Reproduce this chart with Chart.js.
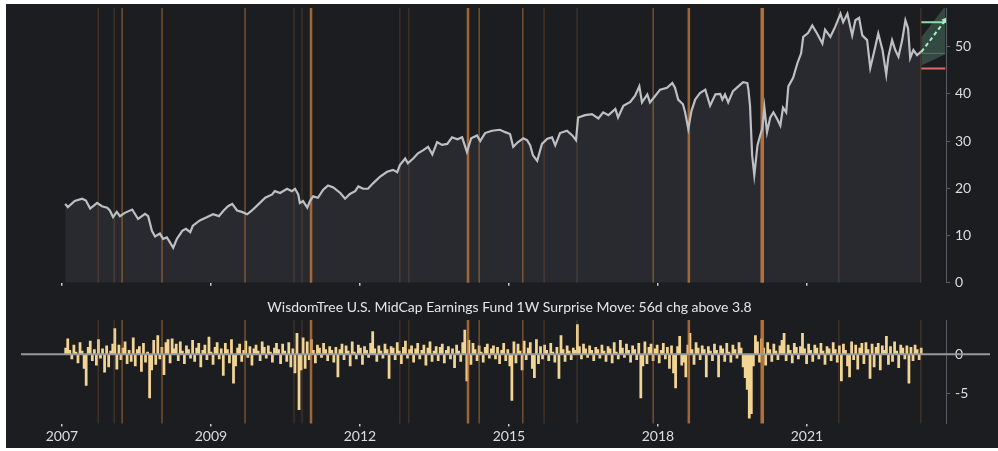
<!DOCTYPE html>
<html>
<head>
<meta charset="utf-8">
<script src="https://cdn.jsdelivr.net/npm/chart.js@4.4.0/dist/chart.umd.min.js"></script>
<style>
  body { margin: 0; background: #ffffff; }
  #wrap { position: absolute; left: 6px; top: 4px; width: 992px; height: 444px; background: #1b1d21; }
  #topBox { position: absolute; left: 0; top: 0; width: 992px; height: 288px; }
  #botBox { position: absolute; left: 0; top: 288px; width: 992px; height: 156px; }
</style>
</head>
<body>
<div id="wrap">
  <div id="topBox"><canvas id="priceChart"></canvas></div>
  <div id="botBox"><canvas id="moveChart"></canvas></div>
</div>
<script>
// x axis (decimal years)
const xMin = 2006.38, xMax = 2023.763;
const xTickYears = [2007.15, 2009.95, 2012.75, 2015.55, 2018.35, 2021.15];
const xTickLabels = ['2007', '2009', '2012', '2015', '2018', '2021'];

// fund price
const priceDates = [
  2007.21, 2007.26, 2007.39, 2007.53, 2007.60, 2007.68, 2007.81, 2007.90, 2008.00, 2008.05,
  2008.11, 2008.18, 2008.24, 2008.33, 2008.47, 2008.58, 2008.71, 2008.77, 2008.84, 2008.90,
  2008.99, 2009.05, 2009.12, 2009.16, 2009.24, 2009.31, 2009.41, 2009.48, 2009.56, 2009.61,
  2009.74, 2009.88, 2009.99, 2010.10, 2010.18, 2010.27, 2010.35, 2010.44, 2010.53, 2010.63,
  2010.72, 2010.84, 2010.97, 2011.10, 2011.15, 2011.25, 2011.38, 2011.47, 2011.53, 2011.59,
  2011.62, 2011.68, 2011.76, 2011.81, 2011.87, 2011.96, 2012.06, 2012.15, 2012.25, 2012.38,
  2012.47, 2012.56, 2012.66, 2012.72, 2012.81, 2012.90, 2013.00, 2013.13, 2013.26, 2013.37,
  2013.45, 2013.50, 2013.60, 2013.65, 2013.75, 2013.84, 2013.94, 2014.03, 2014.11, 2014.20,
  2014.29, 2014.39, 2014.48, 2014.58, 2014.67, 2014.76, 2014.84, 2014.95, 2015.01, 2015.10,
  2015.23, 2015.38, 2015.48, 2015.57, 2015.63, 2015.72, 2015.82, 2015.89, 2015.95, 2016.00,
  2016.08, 2016.17, 2016.27, 2016.36, 2016.42, 2016.51, 2016.64, 2016.74, 2016.81, 2016.85,
  2016.98, 2017.11, 2017.23, 2017.32, 2017.42, 2017.55, 2017.60, 2017.70, 2017.83, 2017.92,
  2018.00, 2018.05, 2018.15, 2018.20, 2018.30, 2018.39, 2018.52, 2018.62, 2018.67, 2018.73,
  2018.82, 2018.86, 2018.92, 2018.98, 2019.05, 2019.14, 2019.24, 2019.33, 2019.43, 2019.52,
  2019.56, 2019.61, 2019.67, 2019.76, 2019.86, 2019.95, 2020.03, 2020.05, 2020.08, 2020.12,
  2020.16, 2020.22, 2020.27, 2020.31, 2020.35, 2020.40, 2020.46, 2020.52, 2020.59, 2020.65,
  2020.70, 2020.76, 2020.80, 2020.89, 2020.97, 2021.04, 2021.08, 2021.17, 2021.25, 2021.34,
  2021.44, 2021.49, 2021.59, 2021.68, 2021.78, 2021.83, 2021.91, 2022.00, 2022.06, 2022.13,
  2022.19, 2022.28, 2022.34, 2022.42, 2022.49, 2022.57, 2022.64, 2022.68, 2022.75, 2022.81,
  2022.87, 2022.94, 2023.00, 2023.05, 2023.09, 2023.15, 2023.22, 2023.30
];
const priceValues = [
  16.7, 16.0, 17.3, 17.8, 17.4, 15.7, 16.9, 16.2, 15.9, 15.3,
  13.9, 15.0, 14.1, 14.8, 15.5, 13.5, 14.6, 14.1, 11.0, 9.8,
  10.4, 9.3, 9.6, 8.9, 7.4, 9.3, 11.0, 11.4, 10.7, 12.1,
  13.2, 13.9, 14.5, 14.1, 15.2, 16.2, 16.7, 15.3, 15.0, 14.5,
  15.3, 16.6, 18.0, 18.7, 19.4, 19.0, 19.9, 19.4, 19.9, 18.7,
  16.9, 17.3, 15.9, 17.3, 18.3, 18.0, 19.7, 20.6, 20.2, 19.0,
  17.8, 18.8, 19.4, 20.4, 19.9, 19.9, 21.1, 22.5, 23.5, 23.9,
  23.4, 24.9, 26.3, 25.3, 26.3, 27.4, 28.1, 28.8, 27.2, 29.8,
  29.2, 29.4, 30.8, 30.4, 30.8, 27.7, 30.6, 31.2, 30.0, 31.7,
  32.2, 32.4, 31.9, 31.5, 28.8, 29.8, 30.6, 30.2, 29.1, 27.0,
  25.8, 29.4, 30.5, 30.8, 29.1, 31.7, 32.2, 31.2, 30.2, 35.0,
  35.5, 35.7, 34.8, 36.1, 35.5, 36.8, 35.0, 37.5, 38.3, 39.6,
  41.6, 38.2, 39.9, 38.2, 39.6, 40.9, 41.3, 42.3, 41.3, 38.8,
  37.8, 36.1, 32.6, 36.4, 38.8, 40.2, 40.9, 37.5, 39.9, 40.0,
  38.8, 39.9, 38.2, 40.6, 41.6, 42.5, 42.3, 40.9, 37.5, 27.0,
  22.8, 29.1, 31.2, 32.6, 37.1, 31.9, 35.0, 36.1, 34.7, 33.3,
  37.1, 36.1, 41.6, 43.4, 46.5, 48.6, 52.1, 52.9, 54.5, 52.8,
  50.7, 53.6, 52.1, 54.2, 57.0, 55.2, 57.0, 52.4, 55.6, 56.1,
  52.4, 51.4, 45.5, 49.3, 52.8, 49.3, 44.1, 47.9, 51.4, 49.3,
  47.9, 51.4, 55.6, 53.9, 47.6, 49.3, 48.2, 49.0
];

// forecast cone and targets
const forecastDates = [2023.30, 2023.75];
const forecastPath = [48.9, 55.6];
const coneHigh = [52.0, 58.6];
const coneLow = [46.0, 48.4];
const lastPrice = 48.6;
const targetHigh = 55.2;
const targetLow = 45.4;

// surprise-move events (orange lines)
const eventYears = [2007.83, 2008.13, 2008.28, 2009.03, 2010.59, 2011.51, 2011.66, 2011.83, 2013.50, 2013.67,
  2014.78, 2014.99, 2015.81, 2016.21, 2016.83, 2018.26, 2018.93, 2020.31, 2021.75, 2023.29];
const eventWeeks = [1, 1, 2, 2, 2, 1, 1, 3, 1, 1, 3, 2, 2, 1, 1, 2, 3, 4, 1, 1];

// 1W surprise move, every two weeks from surpriseStart
const surpriseStart = 2007.22;
const surpriseMoves = [
  0.8, 2.0, 0.5, -0.6, 1.2, 0.3, -1.1, 1.5, 0.4, -1.8, -4.0, 0.9, 1.7, -0.8, 0.6, -1.4, 1.9, -0.5, 0.7, -2.3, 1.1, -1.6, 0.4, 1.3, 3.3, -1.9,
  1.2, -0.7, 0.8, 1.6, -1.2, 0.5, -0.9, 2.1, -1.5, 0.6, 1.0, -2.2, 1.4, -1.0, 0.3, -5.6, -2.0, 1.8, -1.3, 2.4, -0.6, 0.9, -2.6, 1.5, 1.9, -1.1,
  2.0, 0.7, 1.3, -0.8, 1.6, 0.4, -1.2, 1.1, 0.6, -0.5, 1.8, -0.9, 0.8, 1.4, -1.6, 0.5, 1.2, -0.7, 2.2, 0.3, -1.3, 0.9, 1.5, -0.6, 0.7, -2.7,
  1.4, 0.6, -1.1, 1.9, -3.7, -1.5, 0.8, 1.3, -0.9, 0.5, 1.7, -0.4, 1.0, -1.4, 0.7, 1.2, 0.4, -0.8, 1.6, 0.9, -0.5, 1.1, 0.3, -1.0, 0.8, 1.4,
  0.6, -1.2, 1.3, 0.4, -0.9, 1.5, -1.6, 0.7, -2.4, 2.7, -7.1, -2.0, 2.1, -1.8, 1.6, -0.7, 1.9, 0.5, -1.1, 1.2, 0.8, -0.4, 1.4, 0.6, -0.8, 1.0,
  0.5, -1.0, 0.9, -2.9, 0.6, 1.3, -0.7, 1.1, 0.4, -1.5, 1.6, 0.3, -0.6, 1.2, 0.8, -1.3, 1.0, 0.5, -0.4, 1.4, 2.9, 0.7, -0.9, 1.1, 0.4, -0.5,
  1.3, 0.6, -3.1, 1.0, 0.8, -0.7, 1.5, 0.4, -1.2, 0.9, 1.7, -0.5, 0.6, 1.1, -1.0, 0.7, 1.4, -0.6, 0.5, 1.2, -1.4, 0.8, 1.6, -0.9, 0.4, 1.0,
  -0.8, 0.9, 1.3, -1.1, 0.5, 1.0, -0.6, 0.7, -1.7, 1.2, 0.4, -0.9, 1.5, 3.1, -3.4, 1.8, -1.3, 1.4, 0.6, -0.8, 1.1, 0.3, -1.0, 0.9, 1.3, -0.5,
  0.7, 1.1, -0.6, 0.9, -1.2, 0.5, 1.4, -0.8, 0.6, -1.5, -5.9, 1.6, -1.1, 1.3, 0.4, -2.0, 1.7, -0.7, 0.8, 1.5, -1.8, -3.0, 1.9, -1.2, 1.0, -0.6,
  1.2, 0.5, -0.8, 1.4, 0.3, -1.0, 0.9, -3.1, 2.4, 0.6, -0.9, 1.1, 0.4, -0.7, 0.8, 0.5, 3.8, 1.0, -0.6, 1.3, 0.7, -0.4, 1.1, 0.5, -0.8, 0.9,
  0.6, -0.5, 1.2, 0.4, -0.9, 1.0, 0.7, -1.1, 1.5, 0.3, -0.6, 1.8, 0.8, -0.4, 1.3, 0.5, -1.0, 1.1, 0.6, -0.7, 1.4, -5.6, -1.5, 1.6, -1.2, 0.9,
  1.3, -0.8, 0.7, 1.2, -1.1, 0.5, 1.4, -0.6, 0.9, -1.8, 1.1, -2.4, -4.3, 1.0, 2.3, -1.4, -1.0, -2.9, 1.2, 2.7, 0.6, -1.3, 1.5, 0.8, -0.7, 1.1,
  0.6, -2.9, 1.0, 0.4, -0.8, 1.3, 0.5, -2.9, 1.1, 0.7, -0.9, 1.4, 0.3, -1.0, 1.2, 0.6, -0.5, 1.5, 0.8, -1.6, -3.0, -4.5, -8.2, -7.6, -1.5, 2.4,
  1.6, -1.0, 2.0, 0.8, -1.4, 1.5, 0.6, -0.9, 1.3, 0.4, -0.7, 1.1, 1.8, 2.7, -0.8, 1.2, 0.5, -1.1, 1.4, 0.9, -0.6, 1.0, 2.7, 0.7, -1.2, 1.3,
  0.5, -0.9, 1.2, 0.8, -0.6, 1.4, 0.4, -1.3, 1.0, 0.7, -0.8, 1.5, 0.6, -1.0, 1.1, -3.4, 1.3, 0.5, -1.5, -2.9, 1.6, -0.7, 1.2, -1.9, 0.8, 1.4,
  -1.2, 1.5, 0.6, -3.1, 1.3, -1.6, 0.9, 1.4, -2.0, 1.1, 0.5, 2.3, -1.3, 1.0, -0.9, 1.6, 0.4, -1.7, 1.2, 0.8, -0.6, 1.1, -3.7, 0.9, -0.8, 1.2,
  0.6, -0.7, 0.8
];
const surpriseDates = surpriseMoves.map((_, i) => surpriseStart + i / 26);

const priceTicks = [0, 10, 20, 30, 40, 50];
const moveTicks = [-5, 0];
const moveTitle = 'WisdomTree U.S. MidCap Earnings Fund 1W Surprise Move: 56d chg above 3.8';

Chart.defaults.font.family = 'Lato';
Chart.defaults.font.size = 14;
Chart.defaults.color = '#dcdde0';
Chart.defaults.animation = false;

const pts = (xs, ys) => xs.map((x, i) => ({ x: x, y: ys[i] }));

function drawEvents(chart) {
  const { ctx, chartArea, scales } = chart;
  const alphas = [0, 0.3, 0.5, 0.75, 0.85];
  ctx.save();
  eventYears.forEach((yr, i) => {
    const wk = eventWeeks[i];
    const x0 = scales.x.getPixelForValue(yr);
    const w = Math.max(1, scales.x.getPixelForValue(yr + (wk - 0.5) / 52) - x0);
    ctx.fillStyle = 'rgba(205,125,60,' + alphas[wk] + ')';
    ctx.fillRect(x0 - w / 2, chartArea.top, w, chartArea.bottom - chartArea.top);
  });
  ctx.restore();
}

// top: between the area fill and the price line
const eventLines = {
  id: 'eventLines',
  beforeDatasetDraw(chart, args) { if (args.index === 0) drawEvents(chart); }
};
// bottom: over the moves
const eventLinesOver = {
  id: 'eventLinesOver',
  afterDatasetsDraw(chart) { drawEvents(chart); }
};

const zeroLine = {
  id: 'zeroLine',
  afterDatasetsDraw(chart) {
    const { ctx, chartArea, scales } = chart;
    const y = scales.y.getPixelForValue(0);
    ctx.save();
    ctx.strokeStyle = '#96989c';
    ctx.lineWidth = 2;
    ctx.beginPath();
    ctx.moveTo(chartArea.left, y);
    ctx.lineTo(chart.width - 8, y);
    ctx.stroke();
    ctx.restore();
  }
};

function xAxis(showLabels, height) {
  return {
    type: 'linear', min: xMin, max: xMax, offset: false,
    afterBuildTicks: s => { s.ticks = xTickYears.map(v => ({ value: v })); },
    afterFit: s => { s.height = height; s.paddingLeft = 0; s.paddingRight = 0; },
    border: { display: false },
    grid: { drawOnChartArea: false, drawTicks: true, tickLength: 3, color: '#c8cacd', lineWidth: 1.5, offset: false },
    ticks: { display: showLabels, padding: 2, autoSkip: false, maxRotation: 0, color: '#dcdde0',
      callback: (v, i) => xTickLabels[i] }
  };
}

function yAxis(min, max, tickVals) {
  return {
    position: 'right', min: min, max: max,
    afterBuildTicks: s => { s.ticks = tickVals.map(v => ({ value: v })); },
    afterFit: s => { s.width = 52; s.paddingTop = 0; s.paddingBottom = 0; },
    border: { display: true, color: '#5a5e66', width: 1 },
    grid: { drawOnChartArea: false, drawTicks: true, tickLength: 4, color: '#5a5e66' },
    ticks: { padding: 5, color: '#dcdde0' }
  };
}

new Chart(document.getElementById('priceChart'), {
  type: 'line',
  data: {
    datasets: [
      { data: pts(priceDates, priceValues), borderColor: '#bcbfc3', borderWidth: 2.2,
        backgroundColor: '#282a2f', fill: 'origin', pointRadius: 0, tension: 0, order: 10 },
      { data: pts(forecastDates, coneHigh), borderWidth: 0, backgroundColor: 'rgba(120,190,150,0.28)',
        fill: '+1', pointRadius: 0, order: 7 },
      { data: pts(forecastDates, coneLow), borderWidth: 0, fill: false, pointRadius: 0, order: 8 },
      { data: pts(forecastDates, [lastPrice, lastPrice]), borderColor: 'rgba(150,152,156,0.5)',
        borderWidth: 1, pointRadius: 0, order: 5 },
      { data: pts(forecastDates, [targetHigh, targetHigh]), borderColor: '#8fdcaa', borderWidth: 2,
        pointRadius: 0, order: 4 },
      { data: pts(forecastDates, [targetLow, targetLow]), borderColor: '#e06a6a', borderWidth: 2,
        pointRadius: 0, order: 3 },
      { data: pts(forecastDates, forecastPath), borderColor: '#a8f0c4', borderWidth: 2, borderDash: [4, 3],
        pointRadius: [0, 4], pointStyle: 'triangle', rotation: 36, pointBackgroundColor: '#a8f0c4',
        pointBorderWidth: 0, order: 1 }
    ]
  },
  options: {
    responsive: true,
    maintainAspectRatio: false,
    devicePixelRatio: 1,
    layout: { padding: { left: 15, top: 0, right: 0, bottom: 0 } },
    plugins: { legend: { display: false }, tooltip: { enabled: false } },
    scales: {
      x: xAxis(false, 9.3),
      y: yAxis(0, 58.2, priceTicks)
    }
  },
  plugins: [eventLines]
});

new Chart(document.getElementById('moveChart'), {
  type: 'bar',
  data: {
    datasets: [{
      data: pts(surpriseDates, surpriseMoves),
      backgroundColor: '#f3d593', borderWidth: 0, barThickness: 2.1
    }]
  },
  options: {
    responsive: true,
    maintainAspectRatio: false,
    devicePixelRatio: 1,
    layout: { padding: { left: 15, top: 0, right: 0, bottom: 0 } },
    plugins: {
      legend: { display: false },
      tooltip: { enabled: false },
      title: { display: true, text: moveTitle, color: '#e4e5e7',
        font: { size: 14, weight: 'normal' }, padding: { top: 7, bottom: 4.2 } }
    },
    scales: {
      x: xAxis(true, 24.5),
      y: yAxis(-8.87, 4.4, moveTicks)
    }
  },
  plugins: [eventLinesOver, zeroLine]
});
</script>
</body>
</html>
